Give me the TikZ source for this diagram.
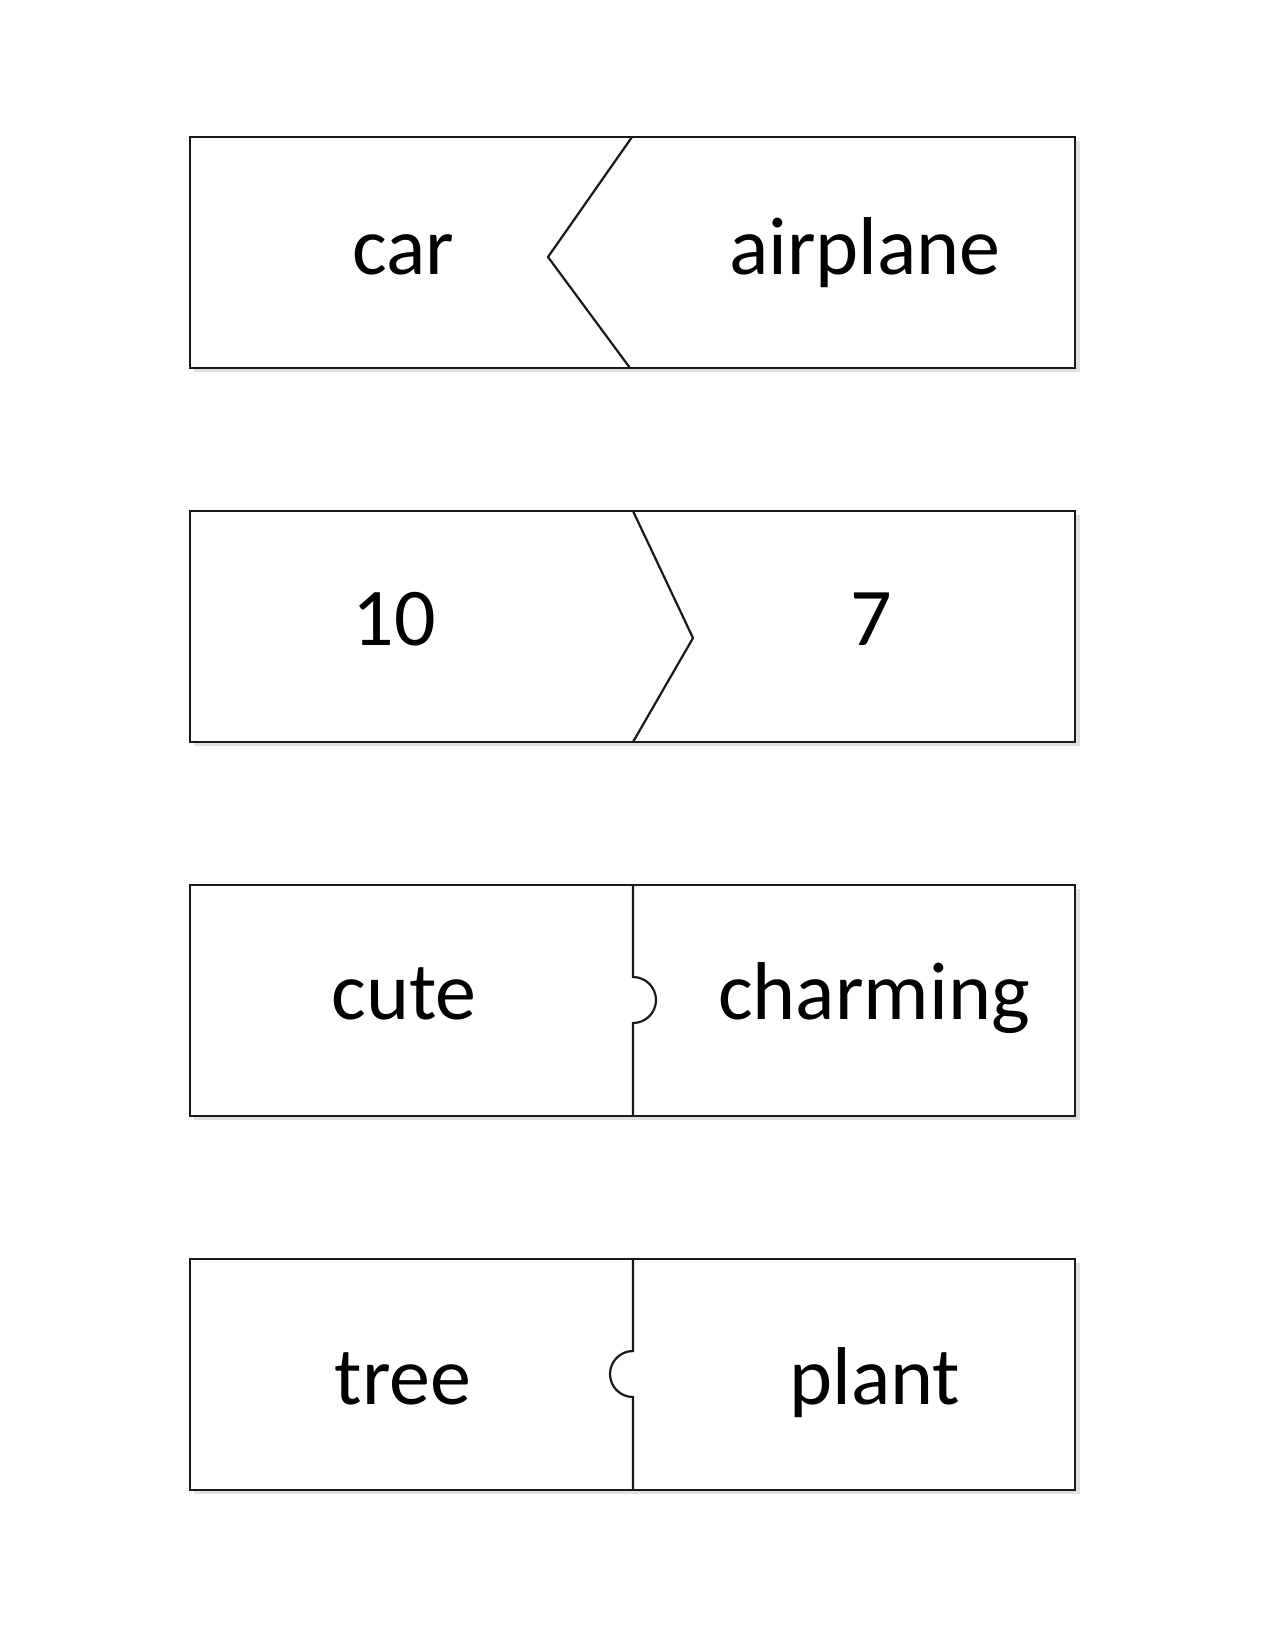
\documentclass[tikz,border=0pt]{standalone}
\usepackage{fontspec}
\setmainfont{Carlito}
\usetikzlibrary{shadows.blur}
\begin{document}
\begin{tikzpicture}[x=0.5pt,y=-0.5pt,
  card/.style={draw=black!90,line width=1.2pt,fill=white},
  cut/.style={draw=black!90,line width=1.1pt,line join=miter},
  shade/.style={fill=black!12},
  word/.style={font=\fontsize{41}{48}\selectfont,anchor=base,inner sep=0pt}]
\useasboundingbox (0,0) rectangle (1275,1650);
% card 1
\fill[shade] (194,141) rectangle (1080,372);
\draw[card] (190,137) rectangle (1075,368);
\draw[cut] (632,137) -- (548,257) -- (630,368);
\node[word] (car) at (403,274) {car};
\node[word] (airplane) at (865,274) {airplane};
% card 2
\fill[shade] (194,515) rectangle (1080,746);
\draw[card] (190,511) rectangle (1075,742);
\draw[cut] (633,511) -- (693,638) -- (633,742);
\node[word] (ten) at (394,645) {10};
\node[word] (seven) at (871,645) {7};
% card 3
\fill[shade] (194,889) rectangle (1080,1120);
\draw[card] (190,885) rectangle (1075,1116);
\draw[cut] (633,885) -- (633,977) arc[start angle=-90,end angle=90,radius=23] -- (633,1116);
\node[word] (cute) at (404,1019) {cute};
\node[word] (charming) at (874,1019) {charming};
% card 4
\fill[shade] (194,1263) rectangle (1080,1494);
\draw[card] (190,1259) rectangle (1075,1490);
\draw[cut] (633,1259) -- (633,1351) arc[start angle=-90,end angle=-270,radius=23] -- (633,1490);
\node[word] (tree) at (403,1404) {tree};
\node[word] (plant) at (875,1404) {plant};
\end{tikzpicture}
\end{document}
